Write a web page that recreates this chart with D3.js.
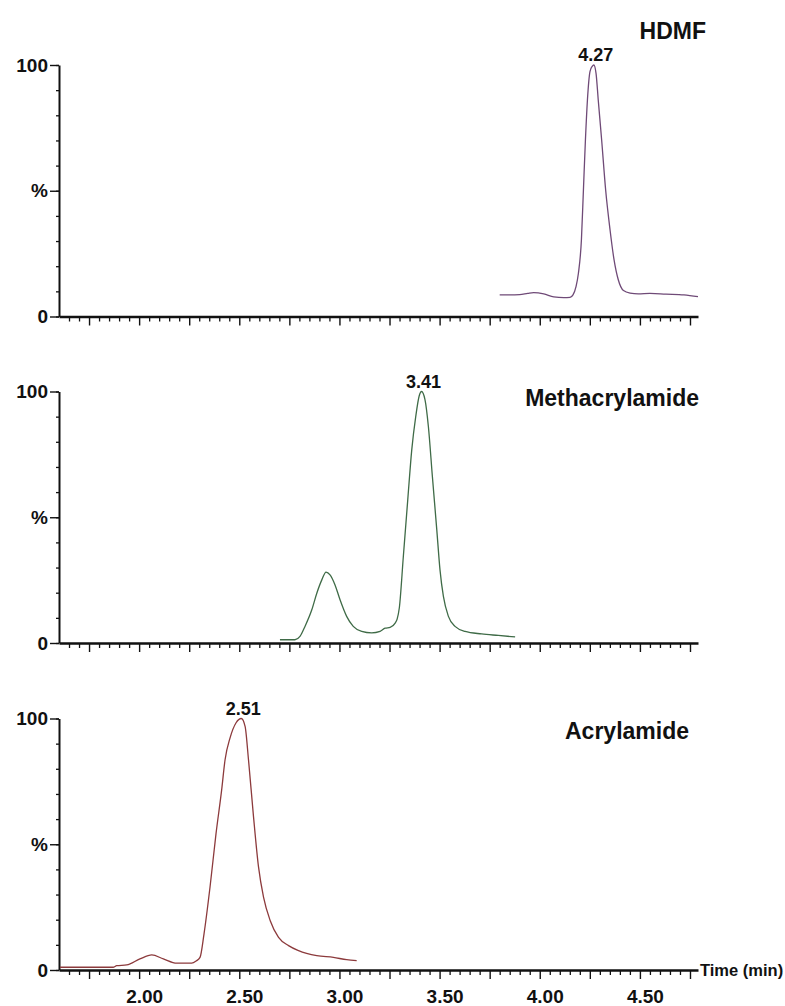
<!DOCTYPE html>
<html>
<head>
<meta charset="utf-8">
<script src="https://cdn.jsdelivr.net/npm/d3@7"></script>
<style>
  html, body { margin: 0; padding: 0; background: #fff; }
  svg { display: block; }
  text { font-family: "Liberation Sans", Arial, sans-serif; font-weight: bold; fill: #111; }
</style>
</head>
<body>
<svg id="chart" width="785" height="1006"></svg>
<script>
// Retention time (min) and relative intensity (%) for each extracted-ion trace
const hdmfTime   = [3.80, 3.85, 3.90, 3.94, 3.97, 4.02, 4.07, 4.12, 4.151, 4.166, 4.181, 4.193, 4.208, 4.218, 4.228, 4.238, 4.251, 4.262, 4.27, 4.281, 4.292, 4.309, 4.329, 4.351, 4.371, 4.392, 4.418, 4.451, 4.492, 4.55, 4.63, 4.72, 4.79];
const hdmfSignal = [8.6, 8.6, 8.7, 9.2, 9.5, 9.0, 7.8, 7.5, 7.6, 8.6, 11.9, 17.2, 30.5, 50.3, 70.2, 86.1, 97.5, 99.5, 100, 96.7, 86.1, 70.2, 50.3, 34.4, 22.5, 14.6, 10.3, 9.3, 9.0, 9.2, 8.9, 8.6, 7.9];

const methTime   = [2.703, 2.778, 2.803, 2.828, 2.862, 2.887, 2.912, 2.933, 2.953, 2.978, 3.003, 3.036, 3.069, 3.111, 3.161, 3.203, 3.228, 3.253, 3.278, 3.288, 3.299, 3.319, 3.341, 3.361, 3.381, 3.398, 3.41, 3.427, 3.444, 3.464, 3.486, 3.502, 3.519, 3.544, 3.577, 3.627, 3.71, 3.793, 3.877];
const methSignal = [1.3, 1.3, 2.6, 6.6, 13.2, 19.8, 25.1, 28.2, 27.1, 23.1, 17.2, 10.6, 6.6, 4.6, 4.0, 4.6, 5.9, 6.2, 7.9, 9.5, 14.0, 34.4, 56.9, 76.8, 90.1, 98.2, 100, 96.8, 86.1, 66.2, 45.0, 29.1, 18.5, 10.6, 6.6, 4.6, 3.6, 3.0, 2.4];

const acrylTime   = [1.605, 1.87, 1.888, 1.938, 2.004, 2.063, 2.121, 2.188, 2.262, 2.285, 2.304, 2.324, 2.354, 2.384, 2.412, 2.429, 2.454, 2.484, 2.51, 2.529, 2.546, 2.571, 2.596, 2.621, 2.654, 2.696, 2.746, 2.796, 2.887, 2.97, 3.036, 3.086];
const acrylSignal = [1.1, 1.1, 1.7, 2.0, 4.4, 6.0, 4.4, 2.7, 2.7, 3.6, 5.0, 14.4, 33, 54.3, 71.6, 83.6, 92.3, 98.3, 100, 96.9, 83.6, 61, 41, 29, 19.7, 13, 9.7, 7.7, 5.7, 5.0, 4.1, 3.7];

const compoundNames = ["HDMF", "Methacrylamide", "Acrylamide"];
const peakTimes     = [4.27, 3.41, 2.51];
const traceColors   = ["#6f4a77", "#3f6b47", "#8c3a3c"];

const xTickLabels = ["2.00", "2.50", "3.00", "3.50", "4.00", "4.50"];
const yMajorTicks = [0, 50, 100];
const yMajorLabels = ["0", "%", "100"];

const traces = [
  { time: hdmfTime,  signal: hdmfSignal },
  { time: methTime,  signal: methSignal },
  { time: acrylTime, signal: acrylSignal }
];

const svg = d3.select("#chart");
const left = 59, right = 698;
const panelTops = [65, 391.5, 718.5];
const panelHeight = 251.5;
const fontStack = '"Liberation Sans", Arial, sans-serif';

const x = d3.scaleLinear().domain([1.6, 4.79]).range([left, right]);

const minorX = d3.range(33, 96).map(i => i / 20).filter(t => Math.abs(t * 4 - Math.round(t * 4)) > 1e-6);
const majorX = d3.range(7, 20).map(i => i / 4);
const labelledX = xTickLabels.map(Number);

traces.forEach((tr, i) => {
  const top = panelTops[i];
  const y = d3.scaleLinear().domain([0, 100]).range([top + panelHeight, top]);
  const g = svg.append("g");

  // y axis: minor ticks every 10 %, longer ticks at 0 / 50 / 100
  const yMinor = g.append("g").attr("transform", `translate(${left},0)`)
    .call(d3.axisLeft(y).tickValues(d3.range(0, 101, 10)).tickSize(3).tickSizeOuter(0).tickFormat(""));
  yMinor.select(".domain").attr("stroke", "#111").attr("stroke-width", 2);
  yMinor.selectAll(".tick line").attr("stroke", "#111").attr("stroke-width", 1.3);

  const yMajor = g.append("g").attr("transform", `translate(${left},0)`)
    .call(d3.axisLeft(y).tickValues(yMajorTicks).tickSize(9).tickSizeOuter(0).tickPadding(2)
      .tickFormat((d, k) => yMajorLabels[k]));
  yMajor.select(".domain").remove();
  yMajor.selectAll(".tick line").attr("stroke", "#111").attr("stroke-width", 1.4);
  yMajor.selectAll(".tick text")
    .style("font-family", fontStack)
    .style("font-weight", "bold").style("font-size", "19px").attr("fill", "#111");

  // x axis: minor ticks every 0.05 min, major every 0.25 min
  const base = top + panelHeight;
  const xMinor = g.append("g").attr("transform", `translate(0,${base})`)
    .call(d3.axisBottom(x).tickValues(minorX).tickSize(5).tickSizeOuter(0).tickFormat(""));
  xMinor.select(".domain").attr("stroke", "#111").attr("stroke-width", 2.5);
  xMinor.selectAll(".tick line").attr("stroke", "#111").attr("stroke-width", 1.3);

  const isBottom = i === traces.length - 1;
  const xMajor = g.append("g").attr("transform", `translate(0,${base})`)
    .call(d3.axisBottom(x).tickValues(majorX).tickSize(9).tickSizeOuter(0).tickPadding(11)
      .tickFormat(d => (isBottom && labelledX.some(v => Math.abs(v - d) < 1e-6)) ? d.toFixed(2) : ""));
  xMajor.select(".domain").remove();
  xMajor.selectAll(".tick line").attr("stroke", "#111").attr("stroke-width", 1.4);
  xMajor.selectAll(".tick text")
    .attr("dx", 5)
    .style("font-family", fontStack)
    .style("font-weight", "bold").style("font-size", "19px").attr("fill", "#111");

  // chromatogram trace
  const pts = tr.time.map((t, k) => [t, tr.signal[k]]);
  g.append("path")
    .datum(pts)
    .attr("fill", "none")
    .attr("stroke", traceColors[i])
    .attr("stroke-width", 1.3)
    .attr("d", d3.line().x(d => x(d[0])).y(d => y(d[1])).curve(d3.curveMonotoneX));

  // retention-time label at the apex
  const apex = tr.signal[tr.time.indexOf(peakTimes[i])];
  g.append("text")
    .attr("x", x(peakTimes[i]) + 2)
    .attr("y", y(apex) - 4)
    .attr("text-anchor", "middle")
    .style("font-size", "18px")
    .text(peakTimes[i].toFixed(2));

  // compound name
  const nameRight = [706, 699, 689][i];
  const nameBase = [39, 406, 739][i];
  g.append("text")
    .attr("x", nameRight)
    .attr("y", nameBase)
    .attr("text-anchor", "end")
    .style("font-size", "23px")
    .text(compoundNames[i]);

  if (isBottom) {
    g.append("text")
      .attr("x", right + 2)
      .attr("y", base + 6)
      .style("font-size", "16.5px")
      .text("Time (min)");
  }
});
</script>
</body>
</html>
